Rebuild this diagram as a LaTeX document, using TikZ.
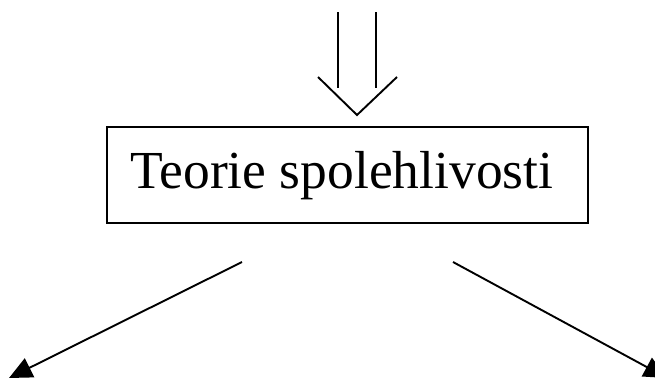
\documentclass[tikz,border=0pt]{standalone}
\usepackage{fontspec}
\setmainfont{Liberation Serif}
\usetikzlibrary{arrows.meta}
\tikzset{
  stroke/.style={line width=1.9pt, black},
  branch/.style={stroke, -{Triangle[length=23pt, width=21pt]}},
  titlebox/.style={draw, line width=1.9pt, minimum width=481pt, minimum height=96pt, inner sep=0pt},
}
\begin{document}
\begin{tikzpicture}[x=1pt, y=-1pt]
  \useasboundingbox (0,0) rectangle (655,378);
  \clip (0,0) rectangle (655,378);

  % main box with its title
  \node[titlebox] (box) at (347.5,175) {};
  \node[anchor=base, inner sep=0pt, font=\fontsize{53.5}{60}\selectfont] (title) at (342,188) {Teorie spolehlivosti};

  % hollow double arrow coming down into the box
  \coordinate (shaftLtop) at (338,12);
  \coordinate (shaftLbot) at (338,88);
  \coordinate (shaftRtop) at (376,12);
  \coordinate (shaftRbot) at (376,88);
  \coordinate (wingL) at (318,77);
  \coordinate (tip) at (357,115);
  \coordinate (wingR) at (397,77);
  \draw[stroke] (shaftLtop) -- (shaftLbot);
  \draw[stroke] (shaftRtop) -- (shaftRbot);
  \draw[stroke] (wingL) -- (tip) -- (wingR);

  % the two branches leaving the box
  \coordinate (leftStart) at (242,262);
  \coordinate (leftEnd) at (9,378);
  \coordinate (rightStart) at (453,262);
  \coordinate (rightEnd) at (667,378);
  \draw[branch] (leftStart) -- (leftEnd);
  \draw[branch] (rightStart) -- (rightEnd);
\end{tikzpicture}
\end{document}
